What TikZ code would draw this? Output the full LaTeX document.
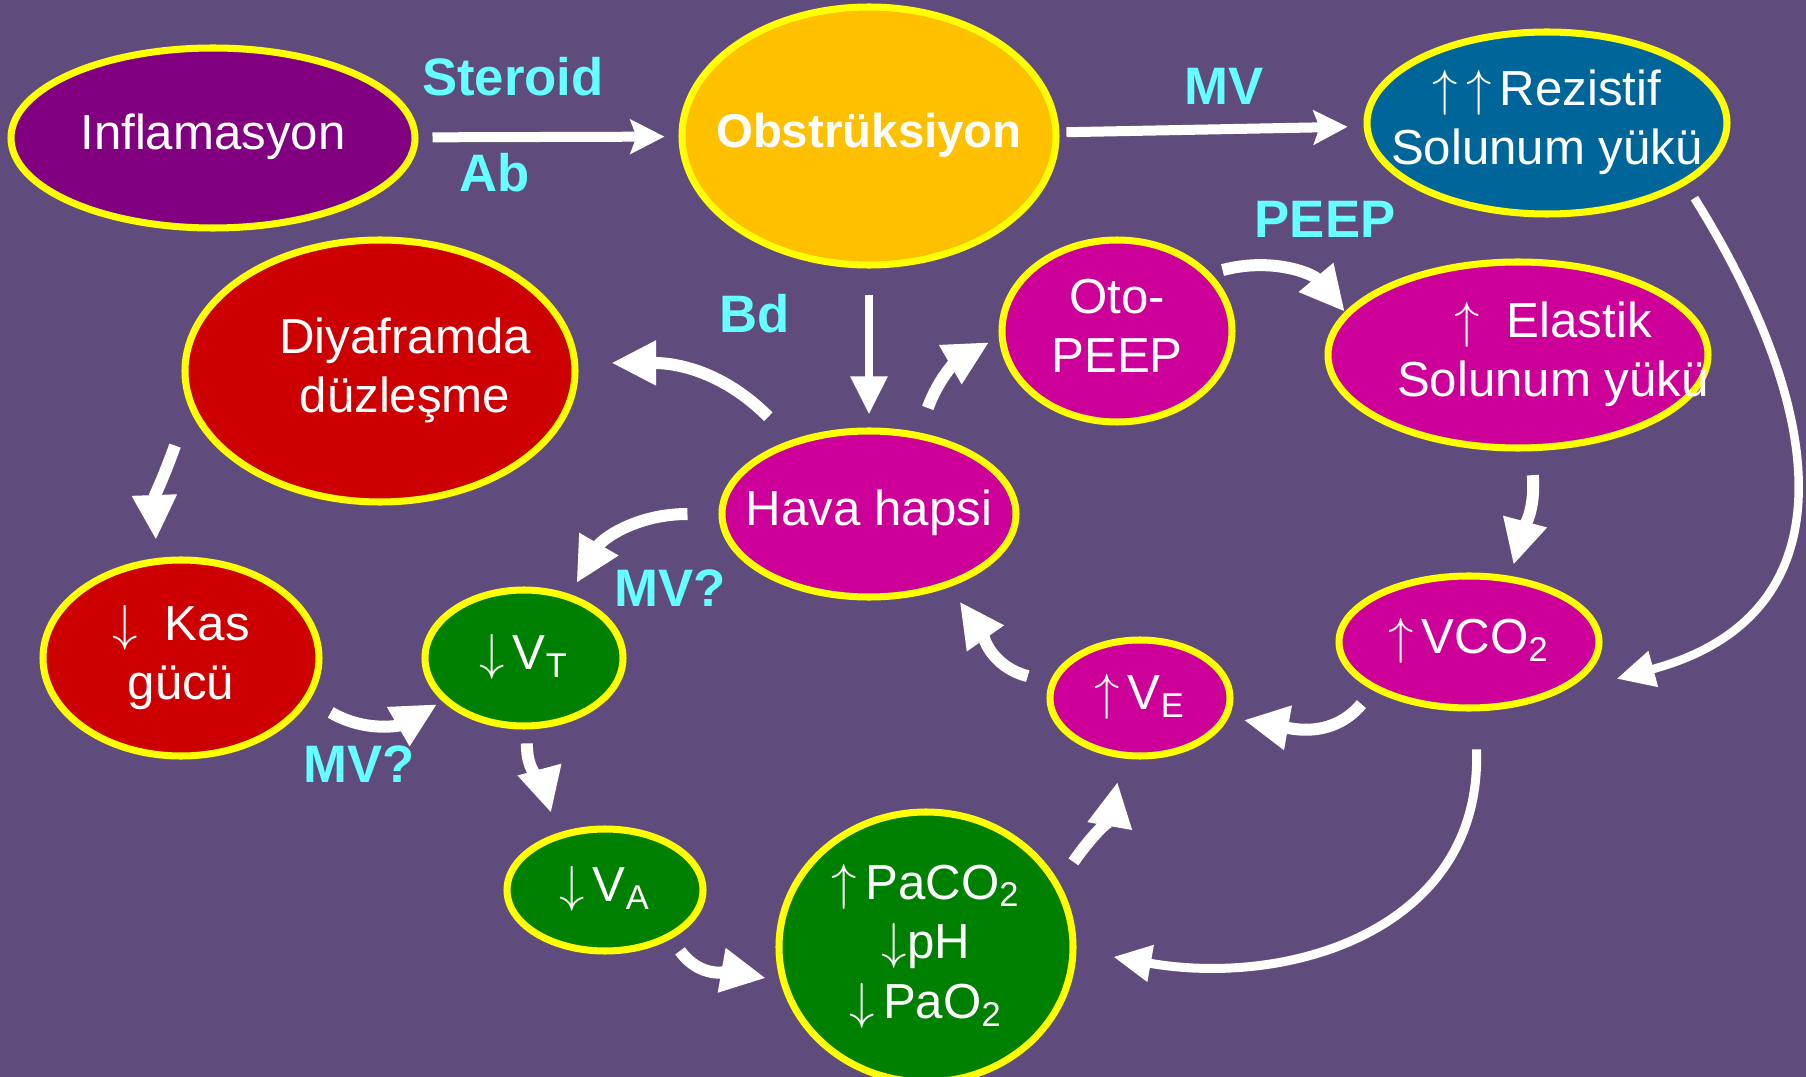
\documentclass[tikz,border=0pt]{standalone}
\usepackage{fontspec}
\setmainfont{Liberation Sans}
\usetikzlibrary{arrows.meta,shapes.geometric}
\definecolor{cBg}{RGB}{96,76,124}
\definecolor{cRim}{RGB}{255,255,0}
\definecolor{cPurple}{RGB}{128,0,128}
\definecolor{cGold}{RGB}{255,192,0}
\definecolor{cBlue}{RGB}{0,102,153}
\definecolor{cRed}{RGB}{204,0,0}
\definecolor{cPink}{RGB}{204,0,153}
\definecolor{cGreen}{RGB}{0,128,0}
\definecolor{cCyan}{RGB}{102,255,255}
\newcommand{\blobtext}[2][0pt]{\makebox[0pt]{\hspace*{#1}\begin{tabular}{@{}c@{}}#2\end{tabular}}}
\newcommand{\upar}{$\uparrow$}
\newcommand{\dnar}{$\downarrow$}

\begin{document}
\begin{tikzpicture}[
    blob/.style={ellipse,draw=cRim,line width=2pt,inner sep=0pt,text=white,font=\fontsize{14}{17}\selectfont},
    lbl/.style={text=cCyan,font=\fontsize{15}{18}\selectfont\bfseries},
    arr/.style={white,line width=1.2mm,-{Triangle[length=4.5mm,width=4.2mm]}},
    thinarr/.style={white,line width=0.85mm,-{Triangle[length=3.8mm,width=3.5mm]}},
    flatarr/.style={white,line width=1mm,-{Stealth[length=3.4mm,width=3.4mm,inset=0.6mm]}}
  ]
  \path[use as bounding box,fill=cBg] (0,0) rectangle (18.06,-10.77);
  % Top row
  \node[blob,fill=cPurple,minimum width=4.04cm,minimum height=1.80cm] (inf) at (2.13,-1.38) {\blobtext{Inflamasyon}};
  \node[blob,fill=cGold,minimum width=3.74cm,minimum height=2.58cm,font=\fontsize{13.5}{16}\selectfont\bfseries] (obs) at (8.69,-1.36) {\blobtext{Obstrüksiyon}};
  \node[blob,fill=cBlue,minimum width=3.60cm,minimum height=1.82cm] (rez) at (15.47,-1.23) {\blobtext{\upar\,\upar\,Rezistif\\Solunum yükü}};
  % Middle
  \node[blob,fill=cRed,minimum width=3.90cm,minimum height=2.62cm] (diy) at (3.80,-3.71) {\blobtext[0.5cm]{Diyaframda\\düzleşme}};
  \node[blob,fill=cPink,minimum width=2.30cm,minimum height=1.82cm] (oto) at (11.17,-3.31) {\blobtext{Oto-\\PEEP}};
  \node[blob,fill=cPink,minimum width=3.80cm,minimum height=1.86cm] (ela) at (15.18,-3.55) {\blobtext[0.7cm]{\upar\ \ Elastik\\Solunum yükü}};
  \node[blob,fill=cPink,minimum width=2.94cm,minimum height=1.66cm] (hava) at (8.69,-5.14) {\blobtext{Hava hapsi}};
  % Lower
  \node[blob,fill=cRed,minimum width=2.76cm,minimum height=1.96cm] (kas) at (1.81,-6.58) {\blobtext{\dnar\ \ Kas\\gücü}};
  \node[blob,fill=cGreen,minimum width=1.98cm,minimum height=1.36cm] (vt) at (5.24,-6.58) {\blobtext{\dnar\,V\textsubscript{T}}};
  \node[blob,fill=cGreen,minimum width=1.96cm,minimum height=1.22cm] (va) at (6.05,-8.90) {\blobtext{\dnar\,V\textsubscript{A}}};
  \node[blob,fill=cGreen,minimum width=2.94cm,minimum height=2.70cm] (pa) at (9.26,-9.47) {\blobtext{\upar\,PaCO\textsubscript{2}\\\dnar pH\\\dnar\,PaO\textsubscript{2}}};
  \node[blob,fill=cPink,minimum width=1.80cm,minimum height=1.16cm] (ve) at (11.40,-6.98) {\blobtext{\upar\,V\textsubscript{E}}};
  \node[blob,fill=cPink,minimum width=2.60cm,minimum height=1.32cm] (vco) at (14.69,-6.42) {\blobtext{\upar\,VCO\textsubscript{2}}};
  % Labels
  \node[lbl] (steroid) at (5.13,-0.77) {Steroid};
  \node[lbl] (ab) at (4.95,-1.73) {Ab};
  \node[lbl] (mv) at (12.24,-0.86) {MV};
  \node[lbl] (peep) at (13.25,-2.19) {PEEP};
  \node[lbl] (bd) at (7.55,-3.14) {Bd};
  \node[lbl] (mvq1) at (6.70,-5.88) {MV?};
  \node[lbl] (mvq2) at (3.59,-7.64) {MV?};
  % Straight arrows
  \draw[flatarr,shorten <=1.4mm,shorten >=1.4mm] (inf) -- (obs);
  \draw[flatarr,shorten <=0.7mm,shorten >=1.6mm] (obs) -- (rez);
  \draw[thinarr,shorten <=2.6mm,shorten >=1.3mm] (obs) -- (hava);
  % Curved arrows
  \draw[thinarr] ([shift={(-27:1.9mm)}]rez.-27) to[out=-58,in=15,looseness=1.3] ([shift={(-14:2.8mm)}]vco.-14);
  \draw[arr] ([shift={(30:1.1mm)}]oto.30) to[out=15,in=130] (ela.166);
  \draw[arr] ([shift={(61:2.7mm)}]hava.61) to[out=70,in=210] ([shift={(185:1mm)}]oto.185);
  \draw[arr] ([shift={(136:3.3mm)}]hava.136) to[out=135,in=0] ([shift={(2:3.3mm)}]diy.2);
  \draw[arr] ([shift={(200:3.2mm)}]diy.200) to[out=250,in=92,looseness=1.2] ([shift={(102:1.8mm)}]kas.102);
  \draw[arr] ([shift={(180:3.1mm)}]hava.180) to[out=180,in=60] ([shift={(55:1.3mm)}]vt.55);
  \draw[arr] ([shift={(-20:2.5mm)}]kas.-20) to[out=-30,in=210] ([shift={(208:0.6mm)}]vt.208);
  \draw[arr] ([shift={(-88:1.4mm)}]vt.-88) to[out=-92,in=105] ([shift={(125:2.2mm)}]va.125);
  \draw[arr] ([shift={(-39:1.6mm)}]va.-39) to[out=-55,in=170] ([shift={(191:1.3mm)}]pa.191);
  \draw[arr] ([shift={(30:2.3mm)}]pa.30) to[out=55,in=260] ([shift={(255:2.4mm)}]ve.255);
  \draw[arr] ([shift={(169:2.3mm)}]ve.169) to[out=165,in=-55] ([shift={(-44:1.9mm)}]hava.-44);
  \draw[arr] ([shift={(210:2.1mm)}]vco.210) to[out=230,in=-10] ([shift={(-12:1.5mm)}]ve.-12);
  \draw[arr] ([shift={(-83:2.4mm)}]ela.-83) to[out=-85,in=75] ([shift={(60:1.2mm)}]vco.60);
  \draw[thinarr,line width=0.9mm] ([shift={(-86:3.8mm)}]vco.-86) to[out=-88,in=-10,looseness=1.1] ([shift={(-3:3.7mm)}]pa.-3);
\end{tikzpicture}
\end{document}
